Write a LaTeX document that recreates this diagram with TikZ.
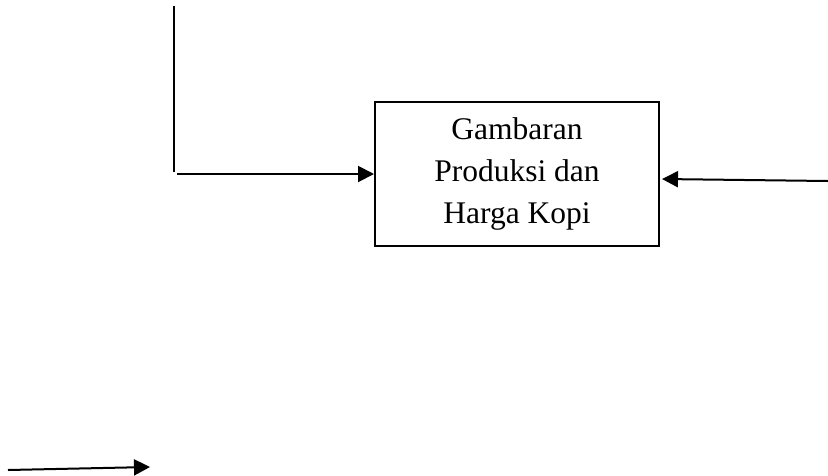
\documentclass[tikz,border=0pt]{standalone}
\usepackage{fontspec}
\setmainfont{Liberation Serif}
\usepackage{xcolor}
\usepackage{tikz}
\usetikzlibrary{arrows.meta}
\definecolor{ink}{HTML}{000000}
\tikzset{
  garis/.style={draw=ink, line width=2pt},
  panah/.style={garis, -{Triangle[length=16pt,width=16pt]}},
  kotak/.style={draw=ink, line width=2pt, minimum width=284pt, minimum height=144pt,
    align=center, inner sep=0pt, font=\fontsize{31.5}{42}\selectfont},
}
\begin{document}
\begin{tikzpicture}[x=1pt,y=-1pt]
  \useasboundingbox (0,0) rectangle (828,475);

  % box in the middle
  \node[kotak] (gambaran) at (517,174) {\rule{0pt}{6pt}Gambaran\\Produksi dan\\Harga Kopi};

  % free ends of the connectors
  \coordinate (kiriAtas) at (174,6);
  \coordinate (kiriBawah) at (174,172);
  \coordinate (masuk) at (177,174);
  \coordinate (kanan) at (828,181);
  \coordinate (bawahA) at (8,470);
  \coordinate (bawahB) at (150,467);

  \draw[garis] (kiriAtas) -- (kiriBawah);
  \draw[panah] (masuk) -- (gambaran.west);
  \draw[panah] (kanan) -- ([yshift=-5pt,xshift=2pt]gambaran.east);
  \draw[panah] (bawahA) -- (bawahB);
\end{tikzpicture}
\end{document}
